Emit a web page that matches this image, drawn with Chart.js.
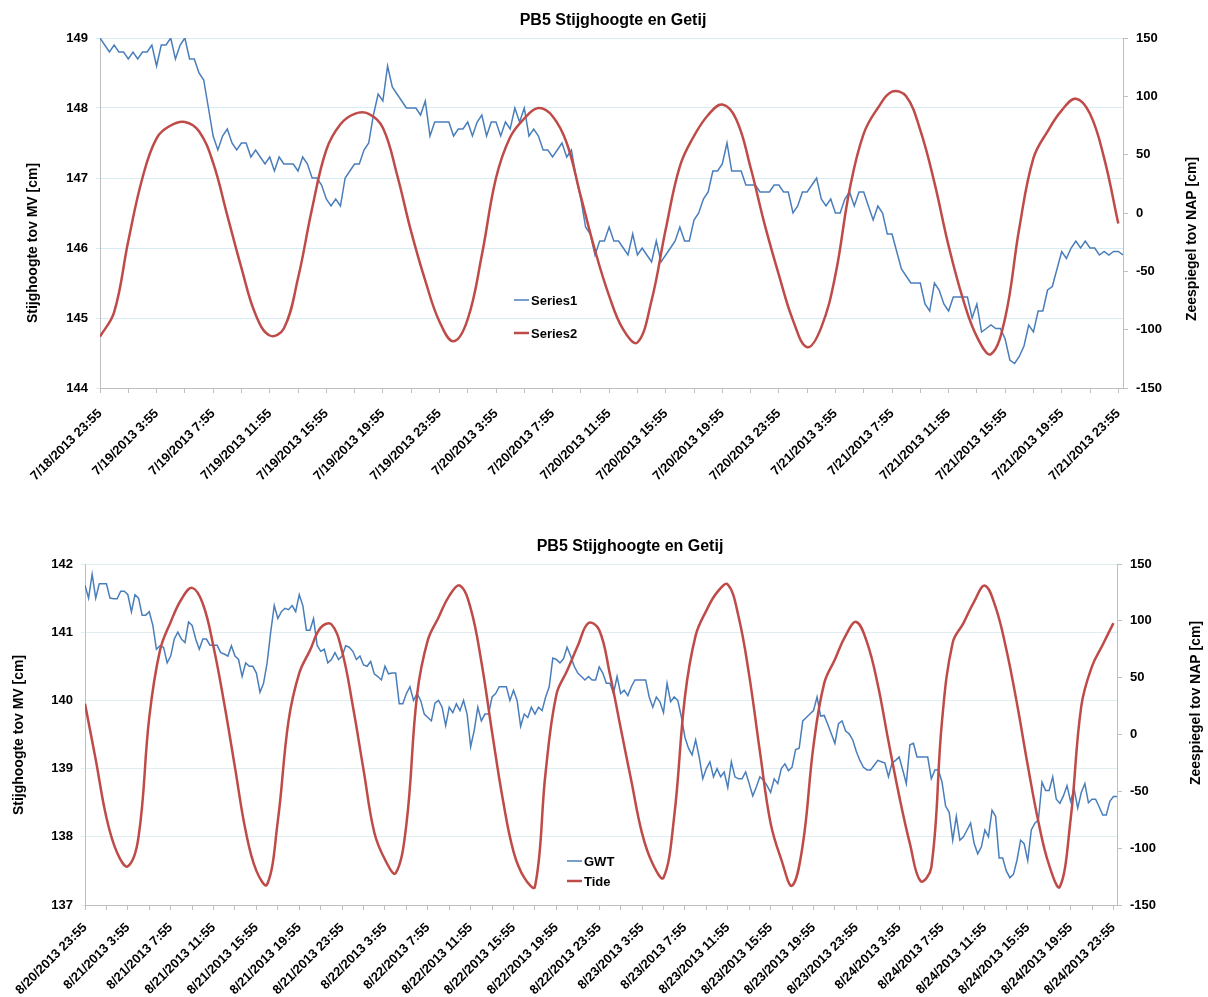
<!DOCTYPE html>
<html>
<head>
<meta charset="utf-8">
<title>PB5 Stijghoogte en Getij</title>
<script src="https://cdn.jsdelivr.net/npm/chart.js@4.4.1/dist/chart.umd.min.js"></script>
<style>
    body { margin: 0; background: #fff; }
    canvas { display: block; }
</style>
</head>
<body>
<canvas id="julyChart" width="1208" height="500"></canvas>
<canvas id="augChart" width="1208" height="497"></canvas>
<script>
// juli: stijghoogte om de 20 min [cm tov MV], getij per uur [cm tov NAP]
const julyHead = [
    149.0, 148.9, 148.8, 148.9, 148.8, 148.8, 148.7, 148.8, 148.7, 148.8,
    148.8, 148.9, 148.6, 148.9, 148.9, 149.0, 148.7, 148.9, 149.0, 148.7,
    148.7, 148.5, 148.4, 148.0, 147.6, 147.4, 147.6, 147.7, 147.5, 147.4,
    147.5, 147.5, 147.3, 147.4, 147.3, 147.2, 147.3, 147.1, 147.3, 147.2,
    147.2, 147.2, 147.1, 147.3, 147.2, 147.0, 147.0, 146.9, 146.7, 146.6,
    146.7, 146.6, 147.0, 147.1, 147.2, 147.2, 147.4, 147.5, 147.9, 148.2,
    148.1, 148.6, 148.3, 148.2, 148.1, 148.0, 148.0, 148.0, 147.9, 148.1,
    147.6, 147.8, 147.8, 147.8, 147.8, 147.6, 147.7, 147.7, 147.8, 147.6,
    147.8, 147.9, 147.6, 147.8, 147.8, 147.6, 147.8, 147.7, 148.0, 147.8,
    148.0, 147.6, 147.7, 147.6, 147.4, 147.4, 147.3, 147.4, 147.5, 147.3,
    147.4, 147.0, 146.7, 146.3, 146.2, 145.9, 146.1, 146.1, 146.3, 146.1,
    146.1, 146.0, 145.9, 146.2, 145.9, 146.0, 145.9, 145.8, 146.1, 145.8,
    145.9, 146.0, 146.1, 146.3, 146.1, 146.1, 146.4, 146.5, 146.7, 146.8,
    147.1, 147.1, 147.2, 147.5, 147.1, 147.1, 147.1, 146.9, 146.9, 146.9,
    146.8, 146.8, 146.8, 146.9, 146.9, 146.8, 146.8, 146.5, 146.6, 146.8,
    146.8, 146.9, 147.0, 146.7, 146.6, 146.7, 146.5, 146.5, 146.7, 146.8,
    146.6, 146.8, 146.8, 146.6, 146.4, 146.6, 146.5, 146.2, 146.2, 145.95,
    145.7, 145.6, 145.5, 145.5, 145.5, 145.2, 145.1, 145.5, 145.4, 145.2,
    145.1, 145.3, 145.3, 145.3, 145.3, 145.0, 145.2, 144.8, 144.85, 144.9,
    144.85, 144.85, 144.7, 144.4, 144.35, 144.45, 144.6, 144.9, 144.8, 145.1,
    145.1, 145.4, 145.45, 145.7, 145.95, 145.85, 146.0, 146.1, 146.0, 146.1,
    146.0, 146.0, 145.9, 145.95, 145.9, 145.95, 145.95, 145.9
];
const julyTide = [
    -106, -85, -24, 30, 64, 75, 78, 70, 43, -2,
    -47, -87, -105, -99, -56, 4, 54, 76, 85, 85,
    73, 33, -16, -58, -93, -110, -91, -36, 30, 65,
    81, 90, 83, 60, 14, -32, -71, -100, -111, -75,
    -14, 40, 66, 84, 93, 80, 39, -10, -53, -92,
    -115, -98, -53, 20, 68, 90, 104, 100, 71, 26,
    -28, -73, -106, -121, -90, -13, 47, 70, 88, 98,
    85, 47, -9
];
const julyLabels = [
    "7/18/2013 23:55", "7/19/2013 3:55", "7/19/2013 7:55", "7/19/2013 11:55",
    "7/19/2013 15:55", "7/19/2013 19:55", "7/19/2013 23:55", "7/20/2013 3:55",
    "7/20/2013 7:55", "7/20/2013 11:55", "7/20/2013 15:55", "7/20/2013 19:55",
    "7/20/2013 23:55", "7/21/2013 3:55", "7/21/2013 7:55", "7/21/2013 11:55",
    "7/21/2013 15:55", "7/21/2013 19:55", "7/21/2013 23:55"
];

// augustus
const augGwt = [
    141.69, 141.5, 141.85, 141.5, 141.71, 141.71, 141.71, 141.5, 141.49, 141.49,
    141.6, 141.6, 141.55, 141.3, 141.55, 141.5, 141.25, 141.25, 141.3, 141.1,
    140.75, 140.8, 140.78, 140.55, 140.65, 140.9, 141.0, 140.9, 140.85, 141.15,
    141.1, 140.9, 140.75, 140.9, 140.9, 140.81, 140.81, 140.81, 140.7, 140.68,
    140.65, 140.8, 140.65, 140.6, 140.35, 140.55, 140.5, 140.5, 140.4, 140.12,
    140.25, 140.55, 141.0, 141.39, 141.2, 141.3, 141.35, 141.33, 141.39, 141.3,
    141.55, 141.39, 141.03, 141.03, 141.2, 140.81, 140.72, 140.75, 140.55, 140.6,
    140.7, 140.6, 140.65, 140.8, 140.78, 140.72, 140.6, 140.65, 140.52, 140.5,
    140.57, 140.39, 140.35, 140.3, 140.5, 140.39, 140.4, 140.4, 139.95, 139.95,
    140.1, 140.2, 140.0, 140.1, 140.0, 139.8, 139.75, 139.7, 139.96, 140.0,
    139.9, 139.63, 139.9, 139.82, 139.95, 139.85, 140.0, 139.8, 139.32, 139.56,
    139.9, 139.7, 139.8, 139.8, 140.05, 140.1, 140.2, 140.2, 140.2, 140.0,
    140.15, 140.0, 139.62, 139.8, 139.75, 139.9, 139.8, 139.9, 139.85, 140.05,
    140.2, 140.62, 140.6, 140.55, 140.61, 140.78, 140.65, 140.5, 140.4, 140.35,
    140.3, 140.35, 140.3, 140.3, 140.49, 140.4, 140.25, 140.25, 140.1, 140.35,
    140.1, 140.15, 140.07, 140.2, 140.3, 140.3, 140.3, 140.3, 140.05, 139.9,
    140.05, 139.98, 139.82, 140.25, 139.98, 140.05, 140.0, 139.76, 139.46, 139.3,
    139.2, 139.42, 139.17, 138.85, 139.0, 139.1, 138.88, 139.0, 138.88, 138.95,
    138.72, 139.1, 138.88, 138.85, 138.85, 138.95, 138.78, 138.6, 138.73, 138.88,
    138.83, 138.75, 138.65, 138.85, 138.78, 139.0, 139.07, 138.97, 139.02, 139.28,
    139.3, 139.7, 139.75, 139.8, 139.85, 140.05, 139.77, 139.78, 139.65, 139.51,
    139.37, 139.66, 139.7, 139.55, 139.51, 139.42, 139.25, 139.12, 139.02, 138.98,
    138.98, 139.05, 139.12, 139.1, 139.08, 138.88, 139.08, 139.12, 139.17, 138.98,
    138.78, 139.35, 139.37, 139.17, 139.17, 139.17, 139.17, 138.85, 138.98, 138.98,
    138.8, 138.45, 138.36, 137.95, 138.3, 137.95, 138.0, 138.1, 138.2, 137.9,
    137.75, 137.85, 138.1, 138.0, 138.39, 138.3, 137.69, 137.69, 137.5, 137.4,
    137.45, 137.66, 137.95, 137.9, 137.65, 138.1, 138.2, 138.25, 138.8, 138.68,
    138.68, 138.88, 138.55, 138.49, 138.6, 138.75, 138.52, 138.7, 138.42, 138.65,
    138.78, 138.5, 138.55, 138.55, 138.44, 138.32, 138.32, 138.52, 138.59, 138.59
];
const augTide = [
    27, -22, -73, -104, -116, -90, 15, 74, 99, 119,
    129, 115, 77, 27, -29, -85, -120, -132, -76, 12,
    54, 74, 94, 97, 73, 25, -31, -86, -110, -122,
    -79, 35, 83, 103, 122, 131, 111, 64, 2, -57,
    -103, -126, -134, -33, 35, 56, 78, 98, 92, 53,
    6, -41, -87, -114, -126, -72, 33, 87, 109, 125,
    132, 104, 52, -15, -78, -110, -133, -97, -10, 45,
    66, 87, 99, 81, 44, -6, -54, -96, -129, -117,
    12, 81, 98, 117, 131, 112, 75, 27, -27, -77,
    -115, -134, -75, 25, 60, 79, 98
];
const augLabels = [
    "8/20/2013 23:55",
    "8/21/2013 3:55", "8/21/2013 7:55", "8/21/2013 11:55", "8/21/2013 15:55", "8/21/2013 19:55", "8/21/2013 23:55",
    "8/22/2013 3:55", "8/22/2013 7:55", "8/22/2013 11:55", "8/22/2013 15:55", "8/22/2013 19:55", "8/22/2013 23:55",
    "8/23/2013 3:55", "8/23/2013 7:55", "8/23/2013 11:55", "8/23/2013 15:55", "8/23/2013 19:55", "8/23/2013 23:55",
    "8/24/2013 3:55", "8/24/2013 7:55", "8/24/2013 11:55", "8/24/2013 15:55", "8/24/2013 19:55", "8/24/2013 23:55"
];

const HEAD_STEP = 1 / 3;  // uur tussen metingen
const TIDE_STEP = 1;

const FONT = "'Liberation Sans', Arial, sans-serif";
const BLUE = "#4a7ebb";
const RED = "#be4b48";
const AXIS = "#bfbfbf";

function toPoints(values, step) {
    return values.map((v, i) => ({ x: i * step, y: v }));
}

function tickFont(size) {
    return { family: FONT, size: size, weight: "bold" };
}

// titels, astitels en legenda zoals in het Excel-origineel
const overlay = {
    id: "overlay",
    afterDraw(chart, args, o) {
        const ctx = chart.ctx;
        ctx.save();
        ctx.fillStyle = "#000";
        ctx.textAlign = "center";
        ctx.textBaseline = "middle";

        ctx.font = `bold 16px ${FONT}`;
        ctx.fillText(o.title, o.titleX, o.titleY);

        ctx.font = `bold 14px ${FONT}`;
        [[o.leftTitle, o.leftX, o.leftY], [o.rightTitle, o.rightX, o.rightY]].forEach(([t, x, y]) => {
            ctx.save();
            ctx.translate(x, y);
            ctx.rotate(-Math.PI / 2);
            ctx.fillText(t, 0, 0);
            ctx.restore();
        });

        ctx.font = `bold 13px ${FONT}`;
        ctx.textAlign = "left";
        o.legendOrder.forEach((idx, n) => {
            const ds = chart.data.datasets[idx];
            const y = o.legendY + n * o.legendGap;
            ctx.strokeStyle = ds.borderColor;
            ctx.lineWidth = ds.borderWidth;
            ctx.beginPath();
            ctx.moveTo(o.legendX, y);
            ctx.lineTo(o.legendX + 15, y);
            ctx.stroke();
            ctx.fillText(ds.label, o.legendX + 17, y + 1);
        });
        ctx.restore();
    }
};

function buildChart(id, cfg) {
    return new Chart(document.getElementById(id), {
        type: "line",
        data: {
            datasets: [
                {
                    label: cfg.headLabel,
                    data: toPoints(cfg.head, HEAD_STEP),
                    yAxisID: "y",
                    borderColor: BLUE,
                    borderWidth: 1.5,
                    pointRadius: 0,
                    tension: 0,
                    order: 2
                },
                {
                    label: cfg.tideLabel,
                    data: toPoints(cfg.tide, TIDE_STEP),
                    yAxisID: "y1",
                    borderColor: RED,
                    borderWidth: 2.5,
                    pointRadius: 0,
                    tension: 0.4,
                    order: 1
                }
            ]
        },
        options: {
            responsive: false,
            animation: false,
            layout: { padding: { top: cfg.padTop, left: 0, right: 0, bottom: 0 } },
            plugins: {
                legend: { display: false },
                tooltip: { enabled: false },
                overlay: cfg.overlay
            },
            scales: {
                x: {
                    type: "linear",
                    min: 0,
                    max: (cfg.head.length - 1) * HEAD_STEP,
                    afterFit: s => { s.height = cfg.xHeight; },
                    border: { color: AXIS },
                    grid: { drawOnChartArea: false, color: AXIS, tickLength: 5 },
                    ticks: {
                        stepSize: 2,
                        includeBounds: false,
                        autoSkip: false,
                        minRotation: 45,
                        maxRotation: 45,
                        padding: cfg.xPad,
                        color: "#000",
                        font: tickFont(13),
                        callback: v => {
                            const h = Math.round(v);
                            return h % 4 === 0 ? cfg.labels[h / 4] : "";
                        }
                    }
                },
                y: {
                    position: "left",
                    min: cfg.yMin,
                    max: cfg.yMax,
                    afterFit: s => { s.width = cfg.leftWidth; },
                    border: { color: AXIS },
                    grid: { color: cfg.gridColor, tickLength: 4 },
                    ticks: { stepSize: 1, padding: 8, color: "#000", font: tickFont(13) }
                },
                y1: {
                    position: "right",
                    min: -150,
                    max: 150,
                    afterFit: s => { s.width = cfg.rightWidth; },
                    border: { color: AXIS },
                    grid: { drawOnChartArea: false, color: AXIS, tickLength: 5 },
                    ticks: { stepSize: 50, padding: 8, color: "#000", font: tickFont(13) }
                }
            }
        },
        plugins: [overlay]
    });
}

buildChart("julyChart", {
    head: julyHead, tide: julyTide, labels: julyLabels,
    headLabel: "Series1", tideLabel: "Series2",
    yMin: 144, yMax: 149,
    padTop: 38, xHeight: 112, xPad: 13, leftWidth: 100, rightWidth: 85,
    gridColor: "#d6ebf2",
    overlay: {
        title: "PB5 Stijghoogte en Getij", titleX: 613, titleY: 21,
        leftTitle: "Stijghoogte tov MV [cm]", leftX: 33, leftY: 243,
        rightTitle: "Zeespiegel tov NAP [cm]", rightX: 1192, rightY: 239,
        legendOrder: [0, 1], legendX: 514, legendY: 300, legendGap: 33
    }
});

buildChart("augChart", {
    head: augGwt, tide: augTide, labels: augLabels,
    headLabel: "GWT", tideLabel: "Tide",
    yMin: 137, yMax: 142,
    padTop: 64, xHeight: 92, xPad: 10, leftWidth: 85, rightWidth: 91,
    gridColor: "#e2edf1",
    overlay: {
        title: "PB5 Stijghoogte en Getij", titleX: 630, titleY: 47,
        leftTitle: "Stijghoogte tov MV [cm]", leftX: 19, leftY: 235,
        rightTitle: "Zeespiegel tov NAP [cm]", rightX: 1196, rightY: 203,
        legendOrder: [0, 1], legendX: 567, legendY: 361, legendGap: 20
    }
});
</script>
</body>
</html>
